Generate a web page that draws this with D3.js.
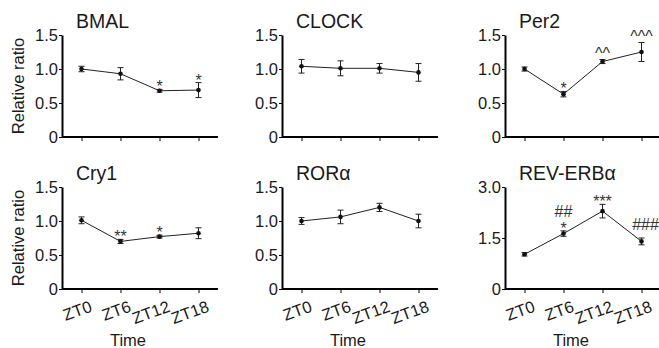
<!DOCTYPE html>
<html>
<head>
<meta charset="utf-8">
<script src="https://cdn.jsdelivr.net/npm/d3@7"></script>
<style>
  html, body { margin: 0; padding: 0; background: #fff; }
  svg { display: block; font-family: 'Liberation Sans', Arial, sans-serif; }
</style>
</head>
<body>
<div id="app"></div>
<script>
// time points
const times = ['ZT0', 'ZT6', 'ZT12', 'ZT18']

// gene titles
const genes = ['BMAL', 'CLOCK', 'Per2', 'Cry1', 'ROR\u03b1', 'REV-ERB\u03b1']

// mean relative ratio per gene
const bmalMean = [1.0, 0.93, 0.68, 0.69]
const clockMean = [1.04, 1.01, 1.01, 0.95]
const per2Mean = [1.0, 0.63, 1.11, 1.25]
const cry1Mean = [1.01, 0.70, 0.77, 0.82]
const roraMean = [1.0, 1.06, 1.2, 1.0]
const revMean = [1.02, 1.63, 2.29, 1.4]

// error bar half-heights
const bmalErr = [0.04, 0.09, 0.02, 0.11]
const clockErr = [0.1, 0.11, 0.07, 0.13]
const per2Err = [0.03, 0.04, 0.03, 0.14]
const cry1Err = [0.05, 0.03, 0.02, 0.08]
const roraErr = [0.05, 0.1, 0.06, 0.1]
const revErr = [0.05, 0.08, 0.2, 0.1]

// significance marks (first row right above the bar, second row above that)
const bmalSig = ['', '', '*', '*']
const clockSig = ['', '', '', '']
const per2Sig = ['', '*', '^^', '^^^']
const cry1Sig = ['', '**', '*', '']
const roraSig = ['', '', '', '']
const revSig = ['', '*', '***', '']
const revSig2 = ['', '##', '', '###']

// y axis ticks
const ticksLow = [0, 0.5, 1.0, 1.5]
const ticksRev = [0, 1.5, 3.0]

const W = 659, H = 348
const svg = d3.select('#app').append('svg').attr('width', W).attr('height', H)

const axisX = [62, 282, 505]
const rowY = [[137, 35], [289, 187]]
const plotW = 156

const panels = [
  { mean: bmalMean, err: bmalErr, sig: bmalSig, max: 1.5, ticks: ticksLow },
  { mean: clockMean, err: clockErr, sig: clockSig, max: 1.5, ticks: ticksLow },
  { mean: per2Mean, err: per2Err, sig: per2Sig, max: 1.5, ticks: ticksLow },
  { mean: cry1Mean, err: cry1Err, sig: cry1Sig, max: 1.5, ticks: ticksLow },
  { mean: roraMean, err: roraErr, sig: roraSig, max: 1.5, ticks: ticksLow },
  { mean: revMean, err: revErr, sig: revSig, sig2: revSig2, max: 3.0, ticks: ticksRev },
]

const fmt = (v) => (v === 0 ? '0' : d3.format('.1f')(v))

panels.forEach((p, i) => {
  const col = i % 3, row = Math.floor(i / 3)
  const x0 = axisX[col]
  const [yb, yt] = rowY[row]

  const x = d3.scalePoint().domain(times).range([x0, x0 + plotW]).padding(0.5)
  const y = d3.scaleLinear().domain([0, p.max]).range([yb, yt])

  const g = svg.append('g')

  // x axis
  const gx = g.append('g').attr('transform', `translate(0,${yb})`)
    .call(d3.axisBottom(x).tickSize(4).tickSizeOuter(0).tickFormat(row === 1 ? (d) => d : ''))
  gx.select('.domain').attr('stroke-width', 2).attr('d', `M${x0},0H${x0 + plotW}`)
  gx.selectAll('.tick line').attr('stroke-width', 1)
  gx.selectAll('.tick text')
    .attr('font-size', 16.5)
    .attr('fill', '#1a1a1a')
    .attr('text-anchor', 'end')
    .attr('transform', 'translate(7,11) rotate(-20)')
    .attr('dy', '0.71em')
    .attr('y', 0)

  // y axis
  const gy = g.append('g').attr('transform', `translate(${x0},0)`)
    .call(d3.axisLeft(y).tickValues(p.ticks).tickFormat(fmt).tickSize(3).tickSizeOuter(0))
  gy.select('.domain').attr('stroke-width', 2)
  gy.selectAll('.tick text').attr('font-size', 16.5).attr('fill', '#1a1a1a').attr('x', -4)

  // title
  g.append('text')
    .attr('x', x0 + 14)
    .attr('y', yt - 7)
    .attr('font-size', 19.5)
    .attr('fill', '#1a1a1a')
    .text(genes[i])

  // line
  const pts = times.map((t, j) => ({ t, m: p.mean[j], e: p.err[j], s: p.sig[j], s2: p.sig2 ? p.sig2[j] : '' }))
  g.append('path')
    .datum(pts)
    .attr('fill', 'none')
    .attr('stroke', '#222')
    .attr('stroke-width', 1)
    .attr('d', d3.line().x((d) => x(d.t)).y((d) => y(d.m)))

  // error bars
  const eb = g.append('g').selectAll('g').data(pts).join('g').attr('stroke', '#222').attr('stroke-width', 1)
  eb.append('line')
    .attr('x1', (d) => x(d.t)).attr('x2', (d) => x(d.t))
    .attr('y1', (d) => y(d.m - d.e)).attr('y2', (d) => y(d.m + d.e))
  eb.append('line')
    .attr('x1', (d) => x(d.t) - 3).attr('x2', (d) => x(d.t) + 3)
    .attr('y1', (d) => y(d.m + d.e)).attr('y2', (d) => y(d.m + d.e))
  eb.append('line')
    .attr('x1', (d) => x(d.t) - 3).attr('x2', (d) => x(d.t) + 3)
    .attr('y1', (d) => y(d.m - d.e)).attr('y2', (d) => y(d.m - d.e))

  g.append('g').selectAll('circle').data(pts).join('circle')
    .attr('cx', (d) => x(d.t)).attr('cy', (d) => y(d.m))
    .attr('r', 2.3).attr('fill', '#111')

  // significance marks
  g.append('g').selectAll('text').data(pts.filter((d) => d.s)).join('text')
    .attr('x', (d) => x(d.t)).attr('y', (d) => y(d.m + d.e) + (d.s[0] === '^' ? 0 : 3))
    .attr('text-anchor', 'middle').attr('font-size', 16).attr('fill', '#333')
    .text((d) => d.s)

  g.append('g').selectAll('text').data(pts.filter((d) => d.s2)).join('text')
    .attr('x', (d) => x(d.t) + (d.s ? 0 : 4))
    .attr('y', (d) => y(d.m + d.e) + (d.s ? -14 : -8))
    .attr('text-anchor', 'middle').attr('font-size', 16).attr('fill', '#333')
    .text((d) => d.s2)

  // y label on left column
  if (col === 0) {
    svg.append('text')
      .attr('transform', `translate(24,${(yb + yt) / 2}) rotate(-90)`)
      .attr('text-anchor', 'middle')
      .attr('font-size', 16.5)
      .attr('fill', '#1a1a1a')
      .text('Relative ratio')
  }

  // x label on bottom row
  if (row === 1) {
    g.append('text')
      .attr('x', x0 + 66)
      .attr('y', 346)
      .attr('text-anchor', 'middle')
      .attr('font-size', 16.5)
      .attr('fill', '#1a1a1a')
      .text('Time')
  }
})
</script>
</body>
</html>
